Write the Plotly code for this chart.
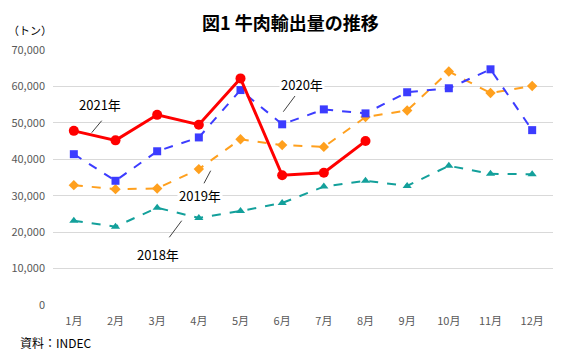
import plotly.graph_objects as go

months = ["1月", "2月", "3月", "4月", "5月", "6月", "7月", "8月", "9月", "10月", "11月", "12月"]
y2018 = [23100, 21500, 26700, 23900, 25800, 28000, 32500, 34100, 32700, 38200, 36000, 35900]
y2019 = [32900, 31800, 32000, 37300, 45500, 43900, 43400, 51600, 53400, 64100, 58200, 60100]
y2020 = [41400, 34100, 42200, 46000, 59000, 49600, 53700, 52600, 58400, 59500, 64700, 48000]
y2021 = [47800, 45200, 52200, 49500, 62200, 35600, 36300, 45000]
yticks = [0, 10000, 20000, 30000, 40000, 50000, 60000, 70000]

W, H = 572, 359
L, R, T, B = 53, 19, 50, 54
PW, PH = W - L - R, H - T - B

def px(x):
    return (x - L) / PW

def py(y):
    return (H - B - y) / PH

font_jp = "Noto Sans CJK JP"
fig = go.Figure()

fig.add_trace(go.Scatter(x=months, y=y2018, mode="lines+markers", name="2018年",
                         line=dict(color="#13A09B", width=2, dash="dash"),
                         marker=dict(symbol="triangle-up", size=8, color="#13A09B")))
fig.add_trace(go.Scatter(x=months, y=y2019, mode="lines+markers", name="2019年",
                         line=dict(color="#FFA01E", width=2, dash="dash"),
                         marker=dict(symbol="diamond", size=8, color="#FFA01E")))
fig.add_trace(go.Scatter(x=months, y=y2020, mode="lines+markers", name="2020年",
                         line=dict(color="#3C3CFF", width=2, dash="dash"),
                         marker=dict(symbol="square", size=8, color="#3C3CFF")))
fig.add_trace(go.Scatter(x=months[:len(y2021)], y=y2021, mode="lines+markers", name="2021年",
                         line=dict(color="#FF0000", width=3),
                         marker=dict(symbol="circle", size=10, color="#FF0000")))

labels = [
    ("2021年", 100, 104, (101.7, 120.7, 91.7, 132.7)),
    ("2020年", 302, 84, (295, 96, 283.3, 111.7)),
    ("2019年", 200, 195, (210.7, 170.7, 204, 183.3)),
    ("2018年", 158, 254, (181.7, 220.7, 169.3, 237.3)),
]
annotations = []
shapes = []
for text, tx, ty, (x0, y0, x1, y1) in labels:
    annotations.append(dict(text=text, x=px(tx), y=py(ty), xref="paper", yref="paper",
                            showarrow=False, bgcolor="white",
                            font=dict(family=font_jp, size=13, color="black"),
                            xanchor="center", yanchor="middle"))
    shapes.append(dict(type="line", xref="paper", yref="paper",
                       x0=px(x0), y0=py(y0), x1=px(x1), y1=py(y1),
                       line=dict(color="#404040", width=1)))

annotations.append(dict(text="<b>図1 牛肉輸出量の推移</b>", x=px(290), y=py(22), xref="paper", yref="paper",
                        showarrow=False, font=dict(family=font_jp, size=18, color="black"),
                        xanchor="center", yanchor="middle"))
annotations.append(dict(text="（トン）", x=px(6), y=py(30), xref="paper", yref="paper",
                        showarrow=False, font=dict(family=font_jp, size=11, color="black"),
                        xanchor="left", yanchor="middle"))
annotations.append(dict(text="資料：INDEC", x=px(18), y=py(342), xref="paper", yref="paper",
                        showarrow=False, font=dict(family=font_jp, size=12, color="black"),
                        xanchor="left", yanchor="middle"))

fig.update_layout(
    width=W, height=H,
    margin=dict(l=L, r=R, t=T, b=B, autoexpand=False),
    paper_bgcolor="white", plot_bgcolor="white",
    showlegend=False,
    annotations=annotations,
    shapes=shapes,
    xaxis=dict(type="category", range=[-0.5, len(months) - 0.5],
               showgrid=False, showline=False, zeroline=False,
               automargin=False, ticklabelstandoff=8,
               tickfont=dict(family=font_jp, size=11, color="#595959"), ticks=""),
    yaxis=dict(range=[0, 70000], tickvals=yticks,
               ticktext=[f"{v:,}" for v in yticks],
               showgrid=True, gridcolor="#D9D9D9", gridwidth=1,
               zeroline=False, showline=False, ticks="", automargin=False,
               ticklabelstandoff=7,
               tickfont=dict(family=font_jp, size=11, color="#595959")),
)

fig.write_html("out.html", config={"displayModeBar": False},
               post_script="document.body.style.margin='0';")
